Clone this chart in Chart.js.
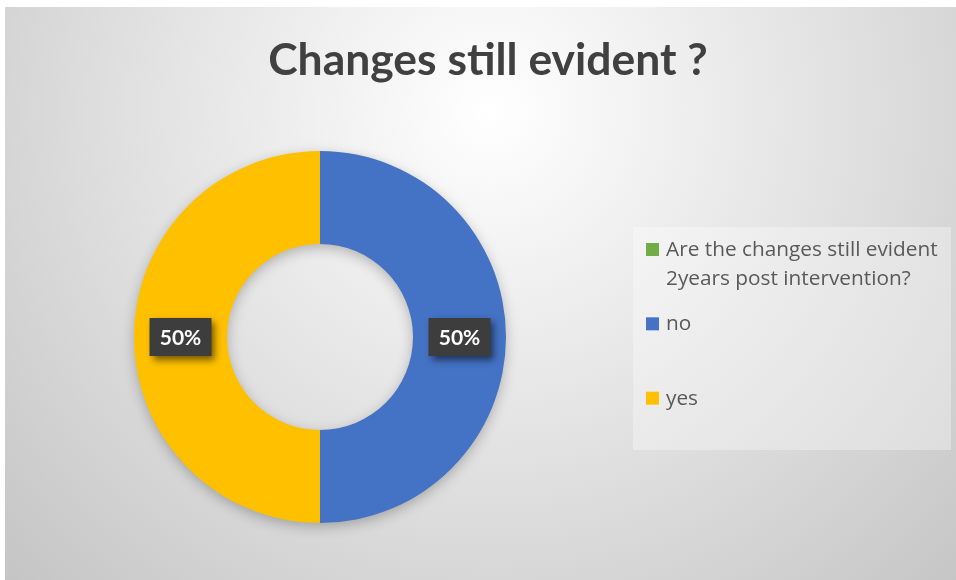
<!DOCTYPE html>
<html>
<head>
<meta charset="utf-8">
<script src="https://cdn.jsdelivr.net/npm/chart.js@4.4.1/dist/chart.umd.min.js"></script>
<style>
  html, body { margin: 0; padding: 0; background: #ffffff; }
  canvas { display: block; }
</style>
</head>
<body>
<canvas id="chart" width="956" height="580"></canvas>
<script>
// Survey answers: share of respondents per answer
const chartTitle = 'Changes still evident ?';
const categories = ['Are the changes still evident 2years post intervention?', 'no', 'yes'];
const shares = [0, 50, 50];
const sliceColors = ['#70AD47', '#4472C4', '#FFC000'];

const TEXT_GREY = '#595959';

// Framed panel with a soft radial grey gradient
const panelBackground = {
  id: 'panelBackground',
  beforeDraw(chart) {
    const { ctx, width, height } = chart;
    ctx.save();
    ctx.fillStyle = '#ffffff';
    ctx.fillRect(0, 0, width, height);
    const g = ctx.createRadialGradient(490, 110, 0, 490, 110, 760);
    g.addColorStop(0, '#ffffff');
    g.addColorStop(0.45, '#e2e2e2');
    g.addColorStop(1, '#bdbdbd');
    ctx.fillStyle = g;
    ctx.fillRect(5, 7, width - 5, height - 7);
    ctx.restore();
  }
};

// Title in bold, centred over the panel
const panelTitle = {
  id: 'panelTitle',
  afterDraw(chart) {
    const { ctx } = chart;
    ctx.save();
    ctx.font = 'bold 44px Lato';
    ctx.fillStyle = '#404040';
    ctx.textBaseline = 'alphabetic';
    ctx.textAlign = 'center';
    ctx.translate(488, 75);
    ctx.scale(1.01, 1);
    ctx.fillText(chartTitle, 0, 0);
    ctx.restore();
  }
};

// Soft shadow beneath the ring
const ringShadow = {
  id: 'ringShadow',
  beforeDatasetsDraw(chart) {
    const arc = chart.getDatasetMeta(0).data.find(a => a.outerRadius > 0);
    if (!arc) return;
    const { ctx } = chart;
    ctx.save();
    ctx.shadowColor = 'rgba(0,0,0,0.28)';
    ctx.shadowBlur = 14;
    ctx.shadowOffsetY = 4;
    ctx.fillStyle = '#cccccc';
    ctx.beginPath();
    ctx.arc(arc.x, arc.y, arc.outerRadius - 1, 0, Math.PI * 2);
    ctx.arc(arc.x, arc.y, arc.innerRadius + 1, 0, Math.PI * 2, true);
    ctx.fill();
    ctx.restore();
  }
};

// Percentage labels in dark boxes at each slice's midpoint
const sliceLabels = {
  id: 'sliceLabels',
  afterDatasetsDraw(chart) {
    const { ctx } = chart;
    const data = chart.data.datasets[0].data;
    const total = data.reduce((a, b) => a + b, 0);
    chart.getDatasetMeta(0).data.forEach((arc, i) => {
      if (!data[i]) return;
      const p = arc.tooltipPosition();
      const text = Math.round(data[i] / total * 100) + '%';
      const w = 62, h = 38;
      ctx.save();
      ctx.shadowColor = 'rgba(0,0,0,0.55)';
      ctx.shadowBlur = 7;
      ctx.shadowOffsetX = 3;
      ctx.shadowOffsetY = 4;
      ctx.fillStyle = '#3d3d3d';
      ctx.fillRect(p.x - w / 2, p.y - h / 2, w, h);
      ctx.restore();
      ctx.save();
      ctx.fillStyle = '#ffffff';
      ctx.font = 'bold 21px Lato';
      ctx.textAlign = 'center';
      ctx.textBaseline = 'middle';
      ctx.fillText(text, p.x, p.y + 1);
      ctx.restore();
    });
  }
};

// Legend panel on the right with wrapped entries
const sideLegend = {
  id: 'sideLegend',
  afterDraw(chart) {
    const { ctx } = chart;
    const box = { x: 633, y: 227, w: 318, h: 223 };
    ctx.save();
    ctx.fillStyle = 'rgba(255,255,255,0.32)';
    ctx.fillRect(box.x, box.y, box.w, box.h);
    ctx.font = '20px "Open Sans"';
    ctx.textBaseline = 'alphabetic';
    ctx.textAlign = 'left';
    const stretch = 1.04;
    const maxW = 282;
    const labels = chart.data.labels;
    const colors = chart.data.datasets[0].backgroundColor;
    const slot = box.h / labels.length;
    labels.forEach((label, i) => {
      // wrap words to the legend width
      const words = label.split(' ');
      const lines = [];
      let cur = '';
      words.forEach(wd => {
        const t = cur ? cur + ' ' + wd : wd;
        if (ctx.measureText(t).width * stretch > maxW && cur) { lines.push(cur); cur = wd; }
        else cur = t;
      });
      if (cur) lines.push(cur);
      const top = box.y + slot * i;
      const base = top + 29;
      ctx.fillStyle = colors[i];
      ctx.fillRect(646, top + 16, 13, 13);
      ctx.fillStyle = TEXT_GREY;
      lines.forEach((ln, k) => {
        ctx.save();
        ctx.translate(666, base + k * 29);
        ctx.scale(stretch, 1);
        ctx.fillText(ln, 0, 0);
        ctx.restore();
      });
    });
    ctx.restore();
  }
};

new Chart(document.getElementById('chart'), {
  type: 'doughnut',
  data: {
    labels: categories,
    datasets: [{
      data: shares,
      backgroundColor: sliceColors,
      borderWidth: 0
    }]
  },
  options: {
    responsive: false,
    devicePixelRatio: 1,
    animation: false,
    cutout: '50%',
    layout: { padding: { left: 134, top: 151, right: 450, bottom: 57 } },
    plugins: {
      legend: { display: false },
      title: { display: false },
      tooltip: { enabled: false }
    }
  },
  plugins: [panelBackground, ringShadow, sliceLabels, sideLegend, panelTitle]
});
</script>
</body>
</html>
